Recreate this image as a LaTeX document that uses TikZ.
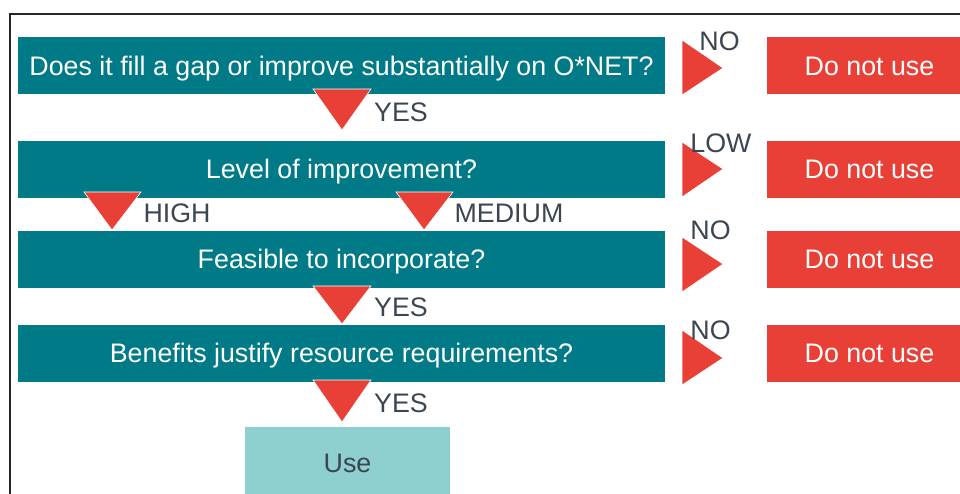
\documentclass[tikz,border=0pt]{standalone}
\usepackage{fontspec}
\setmainfont{Liberation Sans}
\definecolor{qteal}{RGB}{0,122,135}
\definecolor{nred}{RGB}{232,64,54}
\definecolor{uteal}{RGB}{142,207,208}
\definecolor{lgrey}{RGB}{60,70,80}

\begin{document}
\begin{tikzpicture}[x=1pt,y=-1pt,
		txt/.style={font=\fontsize{26.8}{30}\selectfont,text height=19.2pt,text depth=0pt},
		qbox/.style={txt,fill=qteal,text=white,minimum width=647pt,minimum height=57pt,inner sep=0pt},
		nobox/.style={txt,fill=nred,text=white,minimum width=205pt,minimum height=57pt,inner sep=0pt},
		usebox/.style={txt,fill=uteal,text=lgrey,minimum width=205pt,minimum height=72pt,inner sep=0pt},
		lbl/.style={txt,text=lgrey,inner sep=0pt},
		tri/.style={fill=nred,draw=white,line width=0.6pt},
		frame/.style={draw=black!85,line width=1.5pt}]
			\useasboundingbox (0,0) rectangle (960,493);
			\clip (0,0) rectangle (960,493);
			\draw[frame] (1000,14) -- (10,14) -- (10,520);
			\node[qbox] (q1) at (341.5,65.5) {Does it fill a gap or improve substantially on O*NET?};
			\node[qbox] (q2) at (341.5,169) {Level of improvement?};
			\node[qbox] (q3) at (341.5,259) {Feasible to incorporate?};
			\node[qbox] (q4) at (341.5,353) {Benefits justify resource requirements?};
			\node[nobox] (n1) at (869.5,65.5) {Do not use};
			\node[nobox] (n2) at (869.5,169) {Do not use};
			\node[nobox] (n3) at (869.5,259) {Do not use};
			\node[nobox] (n4) at (869.5,353) {Do not use};
			\node[usebox] (use) at (347.5,463) {Use};
			\fill[tri] (313,89) -- (371,89) -- (342,130) -- cycle;
			\fill[tri] (84,192) -- (141,192) -- (112,230) -- cycle;
			\fill[tri] (396,192) -- (453,192) -- (424,230) -- cycle;
			\fill[tri] (313,286) -- (371,286) -- (342,324) -- cycle;
			\fill[tri] (313,380) -- (371,380) -- (342,422) -- cycle;
			\fill[tri] (682,40) -- (723,68) -- (682,95) -- cycle;
			\fill[tri] (682,142) -- (723,169) -- (682,197) -- cycle;
			\fill[tri] (682,237) -- (723,264) -- (682,292) -- cycle;
			\fill[tri] (682,330) -- (723,358) -- (682,385) -- cycle;
			\node[lbl] (y1) at (401,112) {YES};
			\node[lbl] (hi) at (177,213) {HIGH};
			\node[lbl] (med) at (509,213) {MEDIUM};
			\node[lbl] (y3) at (401,307) {YES};
			\node[lbl] (y4) at (401,403) {YES};
			\node[lbl] (no1) at (719.5,41) {NO};
			\node[lbl] (low) at (721,143) {LOW};
			\node[lbl] (no3) at (710.5,230) {NO};
			\node[lbl] (no4) at (710.5,330) {NO};
\end{tikzpicture}
\end{document}
